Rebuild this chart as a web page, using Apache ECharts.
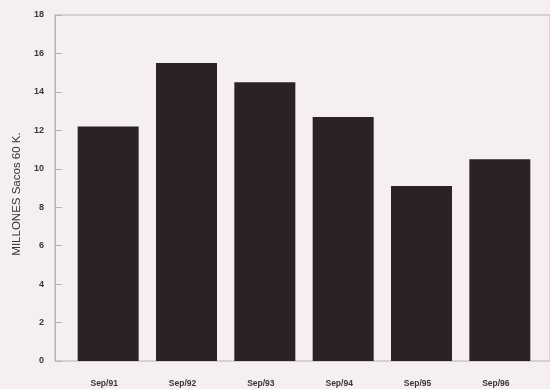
<!DOCTYPE html>
<html>
<head>
<meta charset="utf-8">
<script src="https://cdn.jsdelivr.net/npm/echarts@6/dist/echarts.min.js"></script>
<style>
html,body{margin:0;padding:0;background:#f6efef;}
#c{width:550px;height:389px;}
</style>
</head>
<body>
<div id="c"></div>
<script>
const categories = ['Sep/91','Sep/92','Sep/93','Sep/94','Sep/95','Sep/96'];
const values = [12.2, 15.5, 14.5, 12.7, 9.1, 10.5];
const yTicks = [0,2,4,6,8,10,12,14,16,18];
const yName = 'MILLONES Sacos 60 K.';

const chart = echarts.init(document.getElementById('c'), null, {renderer:'canvas'});
chart.setOption({
  backgroundColor: '#f6efef',
  animation: false,
  grid: [
    {left:55, right:-10, top:15, bottom:28, show:true, borderColor:'#b9b1b1', borderWidth:1, backgroundColor:'transparent'},
    {left:69, right:11, top:15, bottom:28}
  ],
  xAxis: [
    {gridIndex:0, type:'value', show:false, min:0, max:1},
    {gridIndex:1, type:'category', data:categories,
     axisLine:{show:false}, axisTick:{show:false},
     axisLabel:{color:'#3c3535', fontFamily:'Liberation Sans, Arial', fontWeight:'bold', fontSize:8.5, margin:18, padding:[0,8,0,0]}}
  ],
  yAxis: [
    {gridIndex:0, type:'value', min:yTicks[0], max:yTicks[yTicks.length-1], interval:2,
     axisLine:{show:true, lineStyle:{color:'#b9b1b1'}},
     axisTick:{show:true, inside:true, length:7, lineStyle:{color:'#b9b1b1'}},
     splitLine:{show:false},
     axisLabel:{color:'#3c3535', fontFamily:'Liberation Sans, Arial', fontWeight:'bold', fontSize:9, margin:11},
     name: yName, nameLocation:'middle', nameRotate:90, nameGap:32,
     nameTextStyle:{color:'#3a3434', fontFamily:'Liberation Sans, Arial', fontSize:11.5, padding:[0,0,0,-12]}},
    {gridIndex:1, type:'value', min:0, max:18, show:false}
  ],
  series: [{
    type:'bar', xAxisIndex:1, yAxisIndex:1, data:values, barWidth:61,
    itemStyle:{color:'#2a2223'}
  }]
});
</script>
</body>
</html>
